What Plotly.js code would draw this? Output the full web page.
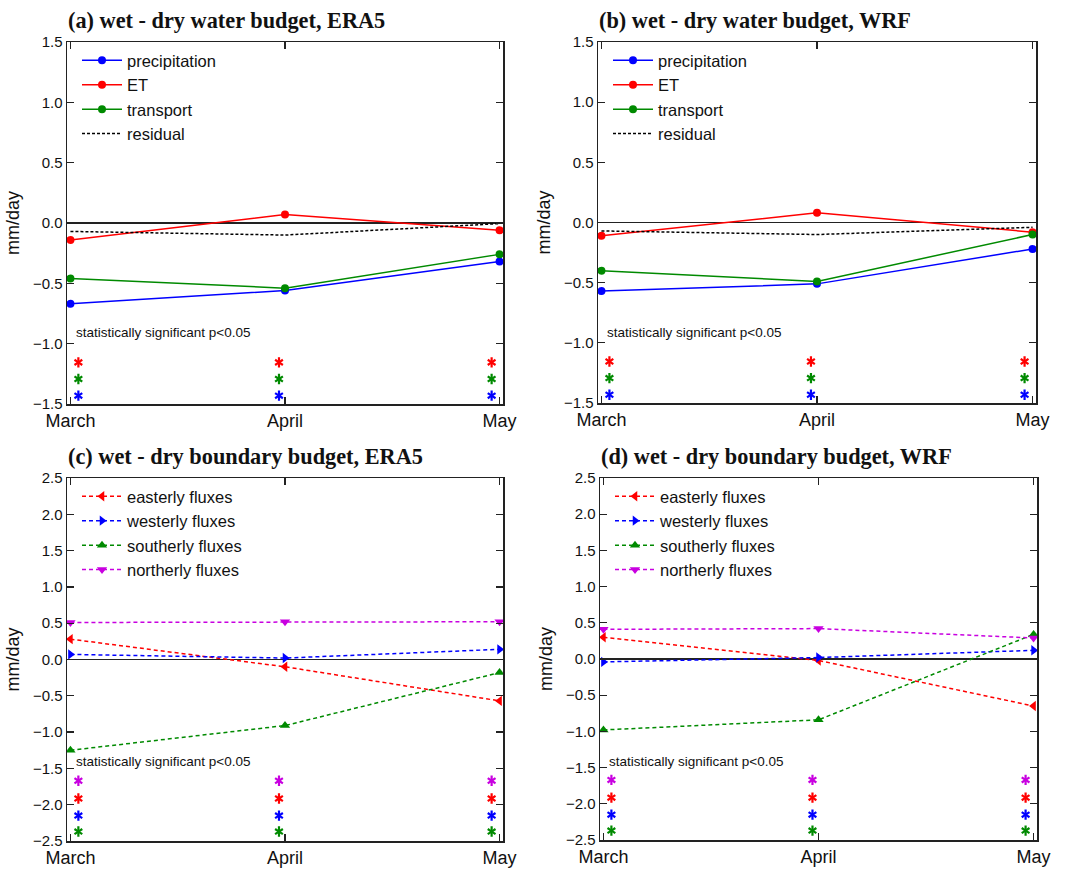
<!DOCTYPE html>
<html>
<head>
<meta charset="utf-8">
<script src="https://cdn.plot.ly/plotly-3.0.1.min.js"></script>
<style>html,body{margin:0;padding:0;background:#fff;}#chart{width:1067px;height:869px;}</style>
</head>
<body>
<div id="chart"></div>
<script>
// ---------- data ----------
const months = ['March', 'April', 'May'];

// (a) wet - dry water budget, ERA5
const a_precip    = [-0.67, -0.56, -0.32];
const a_et        = [-0.14,  0.07, -0.06];
const a_transport = [-0.46, -0.54, -0.26];
const a_residual  = [-0.07, -0.10, -0.005];

// (b) wet - dry water budget, WRF
const b_precip    = [-0.57, -0.51, -0.22];
const b_et        = [-0.11,  0.08, -0.08];
const b_transport = [-0.40, -0.49, -0.10];
const b_residual  = [-0.07, -0.10, -0.04];

// (c) wet - dry boundary budget, ERA5
const c_east  = [ 0.28, -0.10, -0.57];
const c_west  = [ 0.07,  0.02,  0.14];
const c_south = [-1.25, -0.91, -0.18];
const c_north = [ 0.51,  0.52,  0.52];

// (d) wet - dry boundary budget, WRF
const d_east  = [ 0.30, -0.02, -0.65];
const d_west  = [-0.04,  0.02,  0.12];
const d_south = [-0.98, -0.84,  0.34];
const d_north = [ 0.41,  0.42,  0.29];

// significance star rows (value level, series) - all months significant
const waterStarLevels    = [-1.155, -1.293, -1.431];          // ET, transport, precipitation
const waterStarSeries    = ['ET', 'transport', 'precipitation'];
const boundaryStarLevels = [-1.67, -1.915, -2.15, -2.37];     // northerly, easterly, westerly, southerly
const boundaryStarSeries = ['northerly', 'easterly', 'westerly', 'southerly'];
const sigMonths = ['March', 'April', 'May'];

const panelTitles = [
  '(a) wet - dry water budget, ERA5',
  '(b) wet - dry water budget, WRF',
  '(c) wet - dry boundary budget, ERA5',
  '(d) wet - dry boundary budget, WRF'
];
const sigText = 'statistically significant p<0.05';

// ---------- styling ----------
const W = 1067, H = 869;
const COL = {
  precipitation: '#0000FF', ET: '#FF0000', transport: '#008A00', residual: '#000000',
  easterly: '#FF0000', westerly: '#0000FF', southerly: '#008A00', northerly: '#C800E0'
};
const SANS = 'Liberation Sans, Arial, sans-serif';
const SERIF = 'Liberation Serif, Times New Roman, serif';
const monthIdx = months.map((m, i) => i);

// panel boxes in pixels [left, right, top, bottom]
const boxes = [
  [67, 503, 42, 404],
  [598, 1036, 42, 403],
  [67, 503, 478, 841],
  [600, 1037, 478, 840]
];
const px = v => v / W;
const py = v => 1 - v / H;

const traces = [];
function lineTrace(name, y, color, ax, legend, opts) {
  const t = {
    type: 'scatter', mode: 'lines+markers', name: name, x: monthIdx, y: y,
    xaxis: ax[0], yaxis: ax[1], legend: legend,
    line: Object.assign({color: color, width: 1.5}, opts.line || {}),
    marker: Object.assign({color: color, size: 8, symbol: 'circle'}, opts.marker || {})
  };
  if (opts.mode) t.mode = opts.mode;
  traces.push(t);
}

// (a)
lineTrace('precipitation', a_precip, COL.precipitation, ['x', 'y'], 'legend', {});
lineTrace('ET', a_et, COL.ET, ['x', 'y'], 'legend', {});
lineTrace('transport', a_transport, COL.transport, ['x', 'y'], 'legend', {});
lineTrace('residual', a_residual, COL.residual, ['x', 'y'], 'legend', {mode: 'lines', line: {dash: '3px,2px', width: 1.5}});
// (b)
lineTrace('precipitation', b_precip, COL.precipitation, ['x2', 'y2'], 'legend2', {});
lineTrace('ET', b_et, COL.ET, ['x2', 'y2'], 'legend2', {});
lineTrace('transport', b_transport, COL.transport, ['x2', 'y2'], 'legend2', {});
lineTrace('residual', b_residual, COL.residual, ['x2', 'y2'], 'legend2', {mode: 'lines', line: {dash: '3px,2px', width: 1.5}});
// (c)
const dashL = {dash: '4px,3px', width: 1.5};
lineTrace('easterly fluxes', c_east, COL.easterly, ['x3', 'y3'], 'legend3', {line: dashL, marker: {symbol: 'triangle-left', size: 9}});
lineTrace('westerly fluxes', c_west, COL.westerly, ['x3', 'y3'], 'legend3', {line: dashL, marker: {symbol: 'triangle-right', size: 9}});
lineTrace('southerly fluxes', c_south, COL.southerly, ['x3', 'y3'], 'legend3', {line: dashL, marker: {symbol: 'triangle-up', size: 9}});
lineTrace('northerly fluxes', c_north, COL.northerly, ['x3', 'y3'], 'legend3', {line: dashL, marker: {symbol: 'triangle-down', size: 9}});
// (d)
lineTrace('easterly fluxes', d_east, COL.easterly, ['x4', 'y4'], 'legend4', {line: dashL, marker: {symbol: 'triangle-left', size: 9}});
lineTrace('westerly fluxes', d_west, COL.westerly, ['x4', 'y4'], 'legend4', {line: dashL, marker: {symbol: 'triangle-right', size: 9}});
lineTrace('southerly fluxes', d_south, COL.southerly, ['x4', 'y4'], 'legend4', {line: dashL, marker: {symbol: 'triangle-up', size: 9}});
lineTrace('northerly fluxes', d_north, COL.northerly, ['x4', 'y4'], 'legend4', {line: dashL, marker: {symbol: 'triangle-down', size: 9}});

// ---------- significance stars (asterisk = Y-up + Y-down markers) ----------
const starOffset = [0.037, -0.028, -0.037];   // small horizontal offset from month tick
function addStars(panel, levels, series) {
  const ax = panel === 0 ? ['x', 'y'] : ['x' + (panel + 1), 'y' + (panel + 1)];
  levels.forEach((lv, li) => {
    const xs = sigMonths.map(m => months.indexOf(m) + starOffset[months.indexOf(m)]);
    const ys = sigMonths.map(() => lv);
    ['y-up-open', 'y-down-open'].forEach(sym => {
      traces.push({
        type: 'scatter', mode: 'markers', x: xs, y: ys, xaxis: ax[0], yaxis: ax[1],
        showlegend: false, hoverinfo: 'skip',
        marker: {symbol: sym, size: 6.5, color: COL[series[li]], line: {color: COL[series[li]], width: 2.2}}
      });
    });
  });
}
addStars(0, waterStarLevels, waterStarSeries);
addStars(1, waterStarLevels, waterStarSeries);
addStars(2, boundaryStarLevels, boundaryStarSeries);
addStars(3, boundaryStarLevels, boundaryStarSeries);

// ---------- axes ----------
const layout = {
  width: W, height: H,
  margin: {l: 0, r: 0, t: 0, b: 0},
  paper_bgcolor: '#fff', plot_bgcolor: '#fff',
  font: {family: SANS, color: '#111'},
  showlegend: true,
  annotations: [],
  shapes: []
};
const suffix = ['', '2', '3', '4'];
const yRanges = [[-1.5, 1.5], [-1.5, 1.5], [-2.5, 2.5], [-2.5, 2.5]];
const sigY = [-0.91, -0.91, -1.41, -1.41];
boxes.forEach((b, i) => {
  const s = suffix[i];
  layout['xaxis' + s] = {
    domain: [px(b[0]), px(b[1])], anchor: 'y' + s,
    range: [-0.016, 2.016], tickvals: monthIdx, ticktext: months,
    showgrid: false, zeroline: false,
    showline: true, linecolor: '#222', linewidth: 1.5, mirror: 'ticks',
    ticks: 'inside', ticklen: 7, tickwidth: 1.2, tickcolor: '#222',
    tickfont: {size: 18, family: SANS, color: '#111'}, fixedrange: true
  };
  layout['yaxis' + s] = {
    domain: [py(b[3]), py(b[2])], anchor: 'x' + s,
    range: yRanges[i], dtick: 0.5, tickformat: '.1f',
    showgrid: false, zeroline: true, zerolinecolor: '#222', zerolinewidth: 1.5,
    showline: true, linecolor: '#222', linewidth: 1.5, mirror: 'ticks',
    ticks: 'inside', ticklen: 7, tickwidth: 1.2, tickcolor: '#222',
    tickfont: {size: 15, family: SANS, color: '#111'},
    title: {text: 'mm/day', font: {size: 18, family: SANS, color: '#111'}, standoff: 8},
    fixedrange: true
  };
  // panel title
  layout.annotations.push({
    xref: 'paper', yref: 'paper', x: px(b[0] - 1), y: py(b[2] - 22),
    xanchor: 'left', yanchor: 'middle', showarrow: false,
    text: '<b>' + panelTitles[i] + '</b>',
    font: {family: SERIF, size: 22.3, color: '#111'}
  });
  // significance caption
  layout.annotations.push({
    xref: 'x' + s, yref: 'y' + s, x: 0, y: sigY[i], xshift: 4,
    xanchor: 'left', yanchor: 'middle', showarrow: false, text: sigText,
    font: {size: 13.5, family: SANS, color: '#111'}
  });
  // legend
  const lg = i === 0 ? 'legend' : 'legend' + (i + 1);
  layout[lg] = {
    x: px(b[0] + 10), y: py(b[2] + 1), xanchor: 'left', yanchor: 'top',
    bgcolor: 'rgba(0,0,0,0)', borderwidth: 0,
    font: {size: 16.5, family: SANS, color: '#111'},
    itemwidth: 40, tracegroupgap: 0
  };
});

Plotly.newPlot('chart', traces, layout, {displayModeBar: false, staticPlot: true});
</script>
</body>
</html>
